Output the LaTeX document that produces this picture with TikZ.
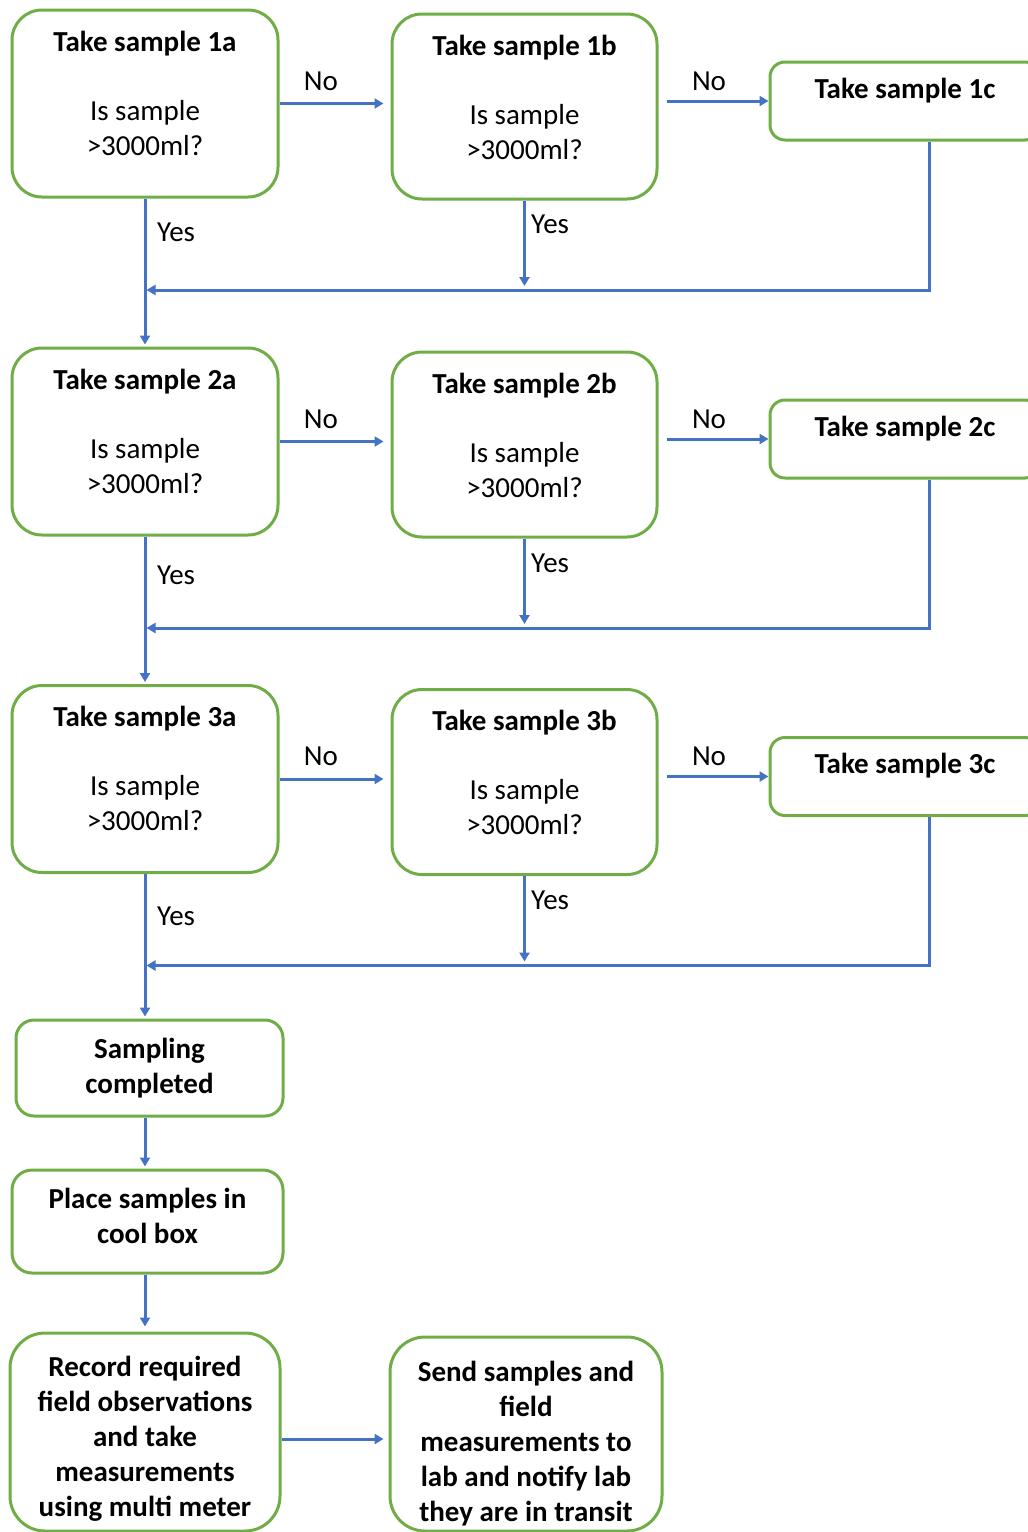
\documentclass[tikz,border=0pt]{standalone}
\usepackage{fontspec}
\setmainfont{Carlito}
\usetikzlibrary{arrows.meta}
\definecolor{boxgreen}{HTML}{70AD47}
\definecolor{lineblue}{HTML}{4472C4}
\begin{document}
\begin{tikzpicture}[x=1pt,y=-1pt,
  box/.style={draw=boxgreen, line width=3pt, fill=white, align=center, inner sep=0pt,
    font=\fontsize{29}{35}\selectfont},
  arr/.style={draw=lineblue, line width=3pt, -{Triangle[length=9pt,width=10pt]}},
  lbl/.style={font=\fontsize{29}{35}\selectfont, inner sep=0pt}]
\clip (0,0) rectangle (1028,1532);
\foreach \i/\o/\ya/\yb in {1/0/232/224, 2/338/575/563, 3/675.5/916/900} {
  \node[box, rounded corners=30pt, minimum width=266pt, minimum height=187pt] (a\i) at (145,103.5+\o)
    {\textbf{Take sample \i a}\\[34pt] Is sample\\>3000ml?\rule[-21pt]{0pt}{21pt}};
  \node[box, rounded corners=30pt, minimum width=265pt, minimum height=185pt] (b\i) at (524.5,106.5+\o)
    {\textbf{Take sample \i b}\\[34pt] Is sample\\>3000ml?\rule[-19pt]{0pt}{19pt}};
  \node[box, rounded corners=15pt, minimum width=270pt, minimum height=78pt] (c\i) at (905,101+\o)
    {\textbf{Take sample \i c}\rule[-26pt]{0pt}{26pt}};
  \draw[arr, shorten >=7pt] (a\i.east) -- (a\i.east -| b\i.west);
  \node[lbl] (na\i) at (321,81+\o) {No};
  \draw[arr, shorten <=8pt] (b\i.east |- c\i.west) -- (c\i.west);
  \node[lbl] (nb\i) at (709,81+\o) {No};
  \coordinate (m\i) at (145,290+\o);
  \draw[arr, shorten >=1.5pt] ([xshift=24pt]c\i.south) |- (m\i);
  \draw[arr, shorten >=4pt] (b\i.south) -- (b\i.south |- m\i);
  \node[lbl, anchor=west] (ya\i) at (157,\ya) {Yes};
  \node[lbl, anchor=west] (yb\i) at (531,\yb) {Yes};
}
\node[box, font=\fontsize{29}{35}\selectfont\bfseries, rounded corners=18pt, minimum width=267pt, minimum height=96pt] (s) at (149.5,1068)
  {Sampling\\completed};
\node[box, font=\fontsize{29}{35}\selectfont\bfseries, rounded corners=20pt, minimum width=271pt, minimum height=103pt] (p) at (147.5,1221.5)
  {Place samples in\\cool box\rule[-12pt]{0pt}{12pt}};
\node[box, font=\fontsize{29}{35}\selectfont\bfseries, rounded corners=35pt, minimum width=270pt, minimum height=198pt] (r) at (145,1432)
  {\rule{0pt}{33pt}Record required\\field observations\\and take\\measurements\\using multi meter};
\node[box, font=\fontsize{29}{35}\selectfont\bfseries, rounded corners=35pt, minimum width=272pt, minimum height=194pt] (sd) at (526,1434)
  {\rule{0pt}{39pt}Send samples and\\field\\measurements to\\lab and notify lab\\they are in transit};
\draw[arr, shorten >=2pt] (a1.south) -- (a2.north);
\draw[arr, shorten >=2pt] (a2.south) -- (a3.north);
\draw[arr, shorten >=2pt] (a3.south) -- (a3.south |- s.north);
\draw[arr, shorten >=2pt] (a3.south |- s.south) -- (a3.south |- p.north);
\draw[arr, shorten >=5pt] (a3.south |- p.south) -- (a3.south |- r.north);
\draw[arr, shorten >=5pt] ([yshift=-7pt]r.east) -- ([yshift=-7pt]r.east -| sd.west);
\end{tikzpicture}
\end{document}
